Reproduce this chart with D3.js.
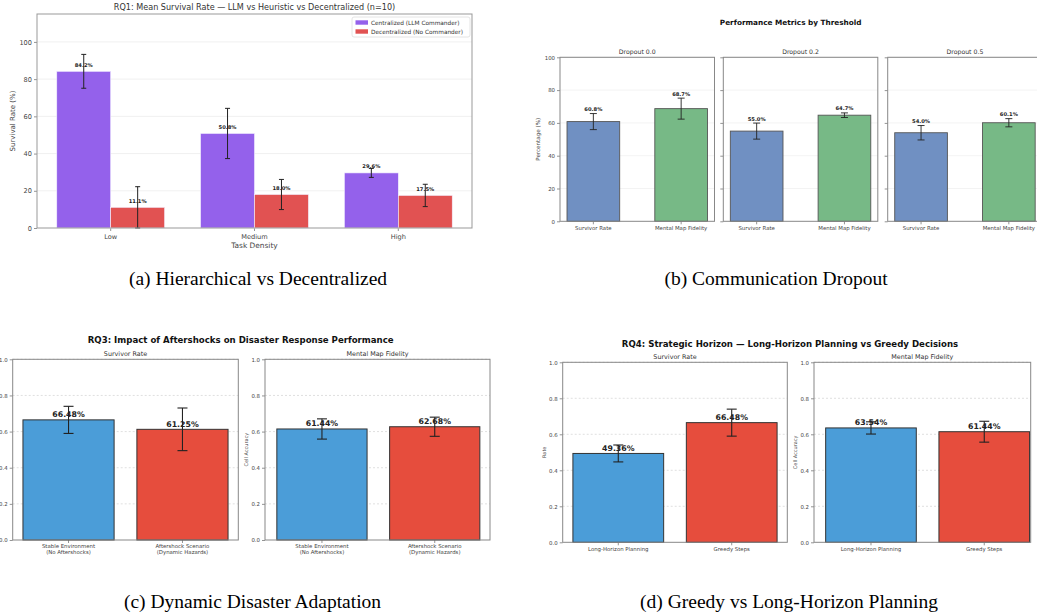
<!DOCTYPE html>
<html>
<head>
<meta charset="utf-8">
<script src="https://cdn.jsdelivr.net/npm/d3@7"></script>
<style>
  body { margin: 0; background: #fff; }
  svg { display: block; }
  text { font-family: "DejaVu Sans", sans-serif; }
  .cap { font-family: "Liberation Serif", "Times New Roman", serif; }
</style>
</head>
<body>
<svg id="fig" width="1037" height="616"></svg>
<script>
// ---- data ----
const rq1Densities = ['Low', 'Medium', 'High']
const rq1Series = ['Centralized (LLM Commander)', 'Decentralized (No Commander)']
const rq1Central = [84.2, 50.8, 29.6]
const rq1CentralErr = [9.1, 13.5, 2.4]
const rq1Decentral = [11.1, 18.0, 17.5]
const rq1DecentralErr = [11.1, 8.1, 6.0]
const rq1YTicks = [0, 20, 40, 60, 80, 100]

const dropoutLevels = ['Dropout 0.0', 'Dropout 0.2', 'Dropout 0.5']
const dropoutMetrics = ['Survivor Rate', 'Mental Map Fidelity']
const dropoutSurvivor = [60.8, 55.0, 54.0]
const dropoutSurvivorErr = [4.9, 4.9, 4.4]
const dropoutFidelity = [68.7, 64.7, 60.1]
const dropoutFidelityErr = [6.4, 1.4, 2.5]
const dropoutYTicks = [0, 20, 40, 60, 80, 100]

const rq3Conditions = [['Stable Environment', '(No Aftershocks)'], ['Aftershock Scenario', '(Dynamic Hazards)']]
const rq3Survivor = [0.6648, 0.6125]
const rq3SurvivorErr = [0.075, 0.118]
const rq3Fidelity = [0.6144, 0.6268]
const rq3FidelityErr = [0.056, 0.053]

const rq4Strategies = [['Long-Horizon Planning'], ['Greedy Steps']]
const rq4Survivor = [0.4936, 0.6648]
const rq4SurvivorErr = [0.047, 0.075]
const rq4Fidelity = [0.6354, 0.6144]
const rq4FidelityErr = [0.034, 0.058]
const rateTicks = [0, 0.2, 0.4, 0.6, 0.8, 1.0]

const captions = ['(a) Hierarchical vs Decentralized', '(b) Communication Dropout',
                  '(c) Dynamic Disaster Adaptation', '(d) Greedy vs Long-Horizon Planning']

const svg = d3.select('#fig')
svg.append('rect').attr('width', 1037).attr('height', 616).attr('fill', '#fff')

// one matplotlib-like axes box
function axesBox(cfg) {
    const g = svg.append('g')
    const x = d3.scaleLinear().domain(cfg.xDomain).range([cfg.left, cfg.right])
    const y = d3.scaleLinear().domain(cfg.yDomain).range([cfg.bottom, cfg.top])

    // grid
    g.selectAll('line.grid').data(cfg.yTicks.filter(t => t > cfg.yDomain[0])).join('line')
        .attr('x1', cfg.left).attr('x2', cfg.right)
        .attr('y1', d => y(d)).attr('y2', d => y(d))
        .attr('stroke', cfg.gridColor || '#ececec').attr('stroke-width', 0.8)
        .attr('stroke-dasharray', cfg.dashed ? '2,2' : null)

    // y ticks
    const yt = g.append('g').attr('transform', `translate(${cfg.left},0)`)
        .call(d3.axisLeft(y).tickValues(cfg.yTicks).tickSize(3).tickPadding(2)
            .tickFormat(cfg.yLabels ? cfg.yFormat : ''))
    yt.select('.domain').remove()
    yt.selectAll('line').attr('stroke', '#666').attr('stroke-width', 0.7)
    yt.selectAll('text').attr('font-size', cfg.tickFont).attr('fill', '#444')
        .attr('font-family', '"DejaVu Sans", sans-serif')

    // x ticks (categorical positions)
    g.selectAll('line.xt').data(cfg.xTicks).join('line')
        .attr('x1', d => x(d)).attr('x2', d => x(d))
        .attr('y1', cfg.bottom).attr('y2', cfg.bottom + 3)
        .attr('stroke', '#666').attr('stroke-width', 0.7)
    cfg.xLabels.forEach((lines, i) => {
        lines.forEach((s, j) => {
            g.append('text').attr('x', x(cfg.xTicks[i]))
                .attr('y', cfg.bottom + cfg.xLabelGap + j * cfg.tickFont * 1.15)
                .attr('text-anchor', 'middle').attr('font-size', cfg.tickFont)
                .attr('fill', '#444').text(s)
        })
    })

    return { g, x, y }
}

function spines(cfg) {
    svg.append('rect').attr('x', cfg.left).attr('y', cfg.top)
        .attr('width', cfg.right - cfg.left).attr('height', cfg.bottom - cfg.top)
        .attr('fill', 'none').attr('stroke', cfg.spineColor || '#999').attr('stroke-width', 1)
}

function bars(ax, pos, vals, errs, w, style) {
    const { g, x, y } = ax
    g.selectAll(null).data(vals).join('rect')
        .attr('x', (d, i) => x(pos[i] - w / 2))
        .attr('width', (d, i) => x(pos[i] + w / 2) - x(pos[i] - w / 2))
        .attr('y', d => y(d)).attr('height', d => y(0) - y(d))
        .attr('fill', (d, i) => Array.isArray(style.fill) ? style.fill[i] : style.fill)
        .attr('stroke', style.edge).attr('stroke-width', style.edgeWidth)
    vals.forEach((v, i) => {
        const cx = x(pos[i])
        const lo = Math.max(v - errs[i], 0), hi = v + errs[i]
        g.append('line').attr('x1', cx).attr('x2', cx).attr('y1', y(lo)).attr('y2', y(hi))
            .attr('stroke', '#222').attr('stroke-width', style.errWidth)
        ;[lo, hi].forEach(e => g.append('line')
            .attr('x1', cx - style.cap).attr('x2', cx + style.cap)
            .attr('y1', y(e)).attr('y2', y(e))
            .attr('stroke', '#222').attr('stroke-width', style.errWidth))
        const ly = style.labelOnErr ? y(hi) - style.labelGap : y(v) - style.labelGap
        g.append('text').attr('x', cx).attr('y', ly).attr('text-anchor', 'middle')
            .attr('font-size', style.labelFont).attr('font-weight', 'bold').attr('fill', '#222')
            .text(style.format(v))
    })
}

function label(txt, x, y, size, opts = {}) {
    const t = svg.append('text').attr('x', x).attr('y', y).attr('text-anchor', 'middle')
        .attr('font-size', size).attr('fill', opts.fill || '#222').text(txt)
    if (opts.bold) t.attr('font-weight', 'bold')
    if (opts.rotate) t.attr('transform', `rotate(-90,${x},${y})`)
    if (opts.cls) t.attr('class', opts.cls)
    return t
}

// ---------------- (a) RQ1 ----------------
{
    const w = 0.375
    const cfg = {
        left: 37, right: 472, top: 14, bottom: 228,
        xDomain: [-0.5125, 2.5125], yDomain: [0, 115],
        yTicks: rq1YTicks, yLabels: true, yFormat: d3.format('d'), tickFont: 6.6,
        xTicks: [0, 1, 2], xLabels: rq1Densities.map(d => [d]), xLabelGap: 10.5
    }
    const ax = axesBox(cfg)
    const style = { edge: '#f4f0ff', edgeWidth: 0.6, errWidth: 1, cap: 2.5, labelGap: 4.5,
                    labelFont: 5.2, format: v => v.toFixed(1) + '%' }
    bars(ax, [0, 1, 2].map(i => i - w / 2), rq1Central, rq1CentralErr, w, { ...style, fill: '#9461eb' })
    bars(ax, [0, 1, 2].map(i => i + w / 2), rq1Decentral, rq1DecentralErr, w, { ...style, fill: '#e15252' })
    spines(cfg)

    // legend
    const lg = svg.append('g')
    lg.append('rect').attr('x', 352).attr('y', 17).attr('width', 118).attr('height', 20)
        .attr('rx', 2).attr('fill', '#fff').attr('stroke', '#ddd').attr('stroke-width', 0.8)
    ;[['#9461eb', rq1Series[0]], ['#e15252', rq1Series[1]]].forEach(([c, s], i) => {
        lg.append('rect').attr('x', 355.5).attr('y', 20.3 + i * 9).attr('width', 12.5).attr('height', 4.4).attr('fill', c)
        lg.append('text').attr('x', 371).attr('y', 24.6 + i * 9).attr('font-size', 5.8).attr('fill', '#333').text(s)
    })

    label('RQ1: Mean Survival Rate — LLM vs Heuristic vs Decentralized (n=10)', 254.5, 10, 8.1, { fill: '#333' })
    label('Survival Rate (%)', 14.5, 121, 7, { rotate: true, fill: '#444' })
    label('Task Density', 254.5, 248, 7.4, { fill: '#444' })
}

// ---------------- (b) dropout ----------------
{
    const w = 0.6
    const lefts = [560, 723.3, 887.7]
    dropoutLevels.forEach((lvl, k) => {
        const cfg = {
            left: lefts[k], right: lefts[k] + 154.5, top: 57.3, bottom: 221.3,
            xDomain: [-0.38, 1.38], yDomain: [0, 100],
            yTicks: dropoutYTicks, yLabels: k === 0, yFormat: d3.format('d'), tickFont: 5.4,
            xTicks: [0, 1], xLabels: dropoutMetrics.map(d => [d]), xLabelGap: 8.2,
            gridColor: '#f0f0f0', spineColor: '#888'
        }
        const ax = axesBox(cfg)
        bars(ax, [0, 1], [dropoutSurvivor[k], dropoutFidelity[k]], [dropoutSurvivorErr[k], dropoutFidelityErr[k]], w,
            { fill: ['#7090c2', '#77b986'], edge: '#555', edgeWidth: 0.9, errWidth: 0.9, cap: 3.5,
              labelOnErr: true, labelGap: 2.5, labelFont: 5.2, format: v => v.toFixed(1) + '%' })
        spines(cfg)
        label(lvl, (cfg.left + cfg.right) / 2, 54, 6.2, { fill: '#333' })
    })
    label('Performance Metrics by Threshold', 790.7, 24.5, 7.3, { bold: true, fill: '#111' })
    label('Percentage (%)', 540.5, 139.3, 5.6, { rotate: true, fill: '#444' })
}

// ---------------- (c) and (d) ----------------
function twoBarPanels(panels, conds, title, titleX, titleY) {
    panels.forEach(p => {
        const cfg = {
            left: p.left, right: p.right, top: p.top, bottom: p.bottom,
            xDomain: p.xDomain, yDomain: [0, 1],
            yTicks: rateTicks, yLabels: true, yFormat: d3.format('.1f'), tickFont: 5.4,
            xTicks: [0, 1], xLabels: conds, xLabelGap: p.xLabelGap,
            gridColor: '#d8d8d8', dashed: true, spineColor: '#888'
        }
        const ax = axesBox(cfg)
        bars(ax, [0, 1], p.vals, p.errs, 0.8,
            { fill: ['#4b9dd8', '#e64d3d'], edge: '#333', edgeWidth: 1, errWidth: 1.1, cap: 5,
              labelGap: 2.8, labelFont: 7.8, format: v => (v * 100).toFixed(2) + '%' })
        spines(cfg)
        label(p.sub, (p.left + p.right) / 2, p.top - 3.5, 6.4, { fill: '#333' })
        if (p.ylab) label(p.ylab, p.ylabX, (p.top + p.bottom) / 2, 5, { rotate: true, fill: '#444' })
    })
    label(title, titleX, titleY, 8.6, { bold: true, fill: '#111' })
}

twoBarPanels([
    { left: 12.7, right: 238.3, top: 359.3, bottom: 540, xDomain: [-0.49, 1.49], xLabelGap: 8,
      vals: rq3Survivor, errs: rq3SurvivorErr, sub: 'Survivor Rate' },
    { left: 265, right: 490, top: 359.3, bottom: 540, xDomain: [-0.505, 1.49], xLabelGap: 8,
      vals: rq3Fidelity, errs: rq3FidelityErr, sub: 'Mental Map Fidelity', ylab: 'Cell Accuracy', ylabX: 248.5 }
], rq3Conditions, 'RQ3: Impact of Aftershocks on Disaster Response Performance', 240.7, 342.5)

twoBarPanels([
    { left: 562.7, right: 787.3, top: 362.3, bottom: 542.3, xDomain: [-0.49, 1.49], xLabelGap: 8.5,
      vals: rq4Survivor, errs: rq4SurvivorErr, sub: 'Survivor Rate', ylab: 'Rate', ylabX: 546 },
    { left: 814, right: 1030.7, top: 362.3, bottom: 542.3, xDomain: [-0.503, 1.41], xLabelGap: 8.5,
      vals: rq4Fidelity, errs: rq4FidelityErr, sub: 'Mental Map Fidelity', ylab: 'Cell Accuracy', ylabX: 797.5 }
], rq4Strategies, 'RQ4: Strategic Horizon — Long-Horizon Planning vs Greedy Decisions', 790, 346.5)

// ---------------- captions ----------------
;[[258, 284.5], [776, 284.5], [252.5, 607.5], [789, 607.5]].forEach(([cx, cy], i) => {
    label(captions[i], cx, cy, 19.5, { cls: 'cap', fill: '#000' })
})
</script>
</body>
</html>
